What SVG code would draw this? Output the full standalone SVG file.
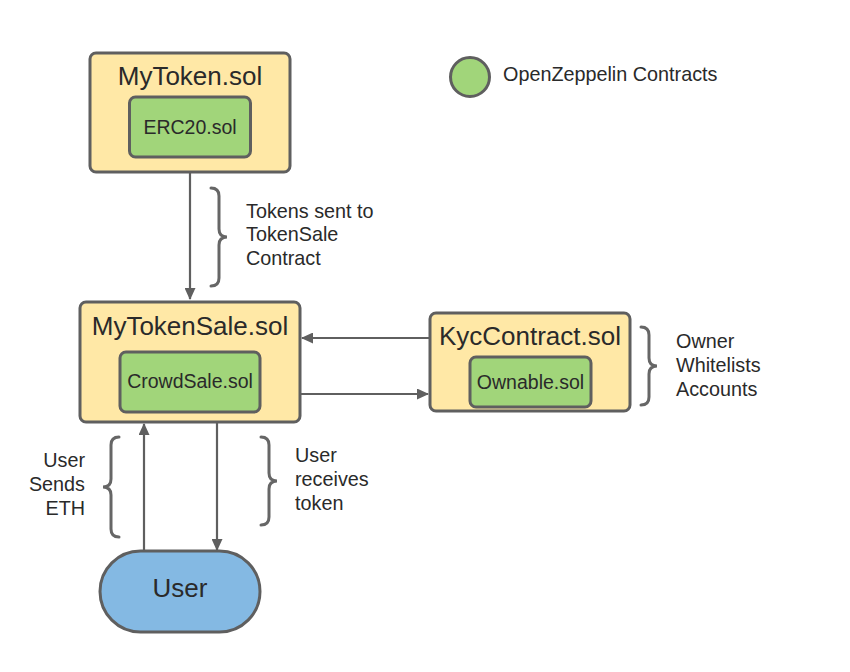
<svg xmlns="http://www.w3.org/2000/svg" width="850" height="672" viewBox="0 0 850 672">
<style>
.outer{fill:#FFE8A6;stroke:#5F5F5F;stroke-width:3}
.inner{fill:#A1D57A;stroke:#5F5F5F;stroke-width:3}
.user{fill:#84B9E3;stroke:#5F5F5F;stroke-width:3}
.t{font-family:"Liberation Sans",Arial,sans-serif;fill:#2a2a2a}
.big{font-size:26px;text-anchor:middle}
.mid{font-size:19.5px;text-anchor:middle}
.lbl{font-size:19.8px}
.conn line{stroke:#5F5F5F;stroke-width:2.2}
.brace{fill:none;stroke:#666;stroke-width:3;stroke-linecap:round}
</style>
<defs>
<marker id="arr" markerWidth="12" markerHeight="11" refX="11" refY="5.5" orient="auto" markerUnits="userSpaceOnUse">
<path d="M0,0 L12,5.5 L0,11 z" fill="#5F5F5F"/>
</marker>
</defs>
<rect width="850" height="672" fill="#fff"/>

<g id="legend">
<circle cx="470" cy="77" r="19.5" class="inner"/>
<text x="503" y="81" class="t lbl">OpenZeppelin Contracts</text>
</g>

<g id="mytoken">
<rect x="90" y="53" width="200" height="119" rx="6" class="outer"/>
<text x="190" y="85" class="t big">MyToken.sol</text>
<rect x="129.5" y="97" width="121" height="60" rx="6" class="inner"/>
<text x="190" y="134" class="t mid">ERC20.sol</text>
</g>

<g id="mytokensale">
<rect x="80" y="302" width="220" height="120" rx="6" class="outer"/>
<text x="190" y="335" class="t big">MyTokenSale.sol</text>
<rect x="120" y="352" width="140" height="60" rx="6" class="inner"/>
<text x="190" y="388" class="t mid">CrowdSale.sol</text>
</g>

<g id="kyccontract">
<rect x="430" y="313" width="200" height="98" rx="6" class="outer"/>
<text x="530" y="345" class="t big">KycContract.sol</text>
<rect x="470" y="357" width="121" height="50" rx="6" class="inner"/>
<text x="530.5" y="389" class="t mid">Ownable.sol</text>
</g>

<g id="user">
<rect x="100" y="551" width="160" height="81" rx="40.5" class="user"/>
<text x="180" y="597" class="t big">User</text>
</g>

<g id="connectors" class="conn">
<line x1="190" y1="173" x2="190" y2="299" marker-end="url(#arr)"/>
<line x1="429" y1="338" x2="302" y2="338" marker-end="url(#arr)"/>
<line x1="301" y1="394" x2="428" y2="394" marker-end="url(#arr)"/>
<line x1="144" y1="551" x2="144" y2="424" marker-end="url(#arr)"/>
<line x1="217" y1="423" x2="217" y2="550" marker-end="url(#arr)"/>
</g>

<g id="annotations">
<path class="brace" d="M211,188 Q219,188 219,196 L219,229 Q219,237 227,237 Q219,237 219,245 L219,278 Q219,286 211,286"/>
<text class="t lbl"><tspan x="246" y="218">Tokens sent to</tspan><tspan x="246" y="241">TokenSale</tspan><tspan x="246" y="265">Contract</tspan></text>

<path class="brace" d="M641,327 Q649,327 649,335 L649,358 Q649,366 657,366 Q649,366 649,374 L649,397 Q649,405 641,405"/>
<text class="t lbl"><tspan x="676" y="348">Owner</tspan><tspan x="676" y="372">Whitelists</tspan><tspan x="676" y="396">Accounts</tspan></text>

<path class="brace" d="M119,437 Q111,437 111,445 L111,479 Q111,487 103,487 Q111,487 111,495 L111,529 Q111,537 119,537"/>
<text class="t lbl" text-anchor="end"><tspan x="85" y="467">User</tspan><tspan x="85" y="491">Sends</tspan><tspan x="85" y="515">ETH</tspan></text>

<path class="brace" d="M261,437 Q269,437 269,445 L269,473 Q269,481 277,481 Q269,481 269,489 L269,517 Q269,525 261,525"/>
<text class="t lbl"><tspan x="295" y="462">User</tspan><tspan x="295" y="486">receives</tspan><tspan x="295" y="510">token</tspan></text>
</g>
</svg>
